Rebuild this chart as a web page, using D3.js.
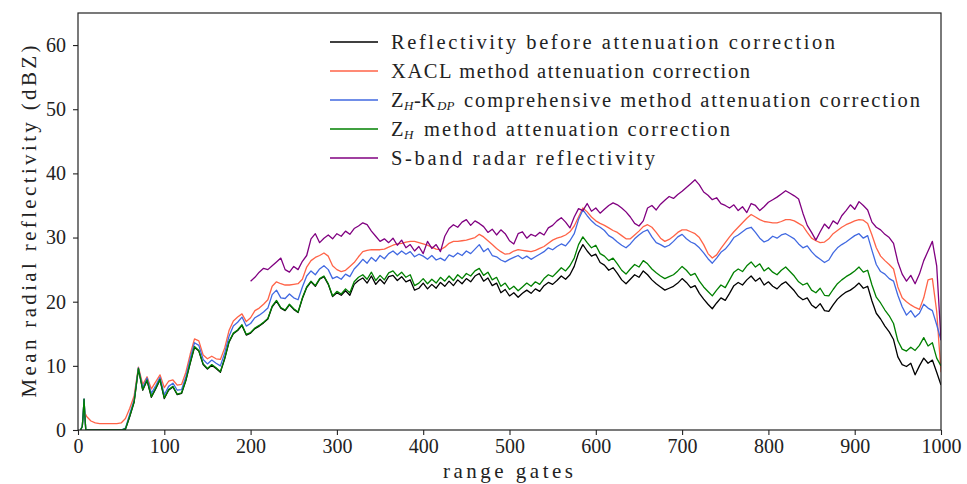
<!DOCTYPE html>
<html>
<head>
<meta charset="utf-8">
<script src="https://cdn.jsdelivr.net/npm/d3@7"></script>
<style>
  body { margin: 0; background: #fff; }
  text { font-family: "Liberation Serif", "DejaVu Serif", serif; fill: #222; }
</style>
</head>
<body>
<div id="chart"></div>
<script>
// range gates: a few points at the very start, then every 5 gates
const headGates = [3, 5, 6, 7, 8, 9];
const gates = headGates.concat(d3.range(10, 1001, 5));
const sGates = d3.range(200, 1001, 5);

const before = [0, 0.6, 2.4, 4.8, 2.2, 0,
  0,0,0,0,0,0,0,0,0,0.1,
  2.1,4.3,9.5,6.2,7.7,5.1,6.4,7.8,4.9,6.2,
  6.7,5.5,5.7,7.7,10.4,12.9,12.3,10.2,9.5,10.1,
  9.6,9.0,11.1,13.7,15.0,15.5,16.3,14.8,15.1,15.8,
  16.2,16.7,17.3,19.2,20.1,19.0,18.6,19.5,18.8,18.3,
  20.5,22.2,23.1,22.4,23.5,23.9,22.7,20.8,21.4,21.0,
  21.7,21.0,22.7,23.3,23.7,22.9,24.0,22.7,23.5,22.8,
  23.9,24.1,23.3,23.9,23.1,23.4,21.8,22.1,22.9,22.0,
  22.7,22.1,23.0,22.4,23.2,22.5,23.4,22.8,23.6,23.1,
  24.0,24.4,23.2,23.7,22.5,22.9,21.4,21.9,20.9,21.4,
  20.7,21.3,21.8,21.3,22.0,21.6,22.5,23.0,22.7,23.3,
  24.0,23.5,24.2,25.5,27.6,28.9,27.9,27.1,27.4,26.1,
  25.7,24.9,25.3,24.4,23.4,22.8,23.5,24.2,23.8,24.8,
  24.2,23.4,22.8,22.3,21.8,22.1,22.4,22.9,23.6,23.0,
  22.2,22.5,21.3,20.4,19.6,18.9,19.8,20.6,20.2,21.3,
  22.5,23.0,22.6,23.4,24.0,23.2,23.7,22.6,23.1,22.4,
  22.0,22.7,23.1,22.4,21.7,20.8,20.3,20.6,19.5,19.0,
  19.7,18.6,18.5,19.5,20.4,21.0,21.5,21.8,22.3,22.9,
  22.1,22.4,20.1,18.2,17.3,16.2,15.3,14.1,11.4,10.2,
  9.9,10.4,8.6,10.0,11.2,10.4,10.9,9.0,7.0];

const xacl = [null, null, null, null, 2.6, 2.4,
  2.1,1.4,1.1,1.0,1.0,1.0,1.0,1.0,1.1,1.8,
  3.4,5.3,9.8,7.1,8.3,6.4,7.5,8.6,6.6,7.6,
  7.8,7.0,7.1,9.0,11.8,14.2,13.9,11.7,11.1,11.5,
  11.1,11.0,12.8,15.5,17.0,17.6,18.1,16.9,17.5,18.6,
  19.0,19.6,20.3,22.4,23.1,22.8,22.6,22.6,22.7,22.8,
  23.5,25.4,26.4,26.9,27.2,27.6,27.1,25.6,25.0,24.7,
  24.9,25.5,26.1,27.0,27.8,28.0,28.1,28.1,28.1,28.2,
  28.5,28.8,29.0,29.1,29.3,29.4,29.4,29.2,29.0,28.8,
  28.5,28.2,28.1,28.5,29.1,29.4,29.4,29.5,29.6,29.8,
  30.0,30.5,30.1,29.5,28.9,28.3,27.8,27.4,27.5,27.9,
  28.1,28.0,27.9,27.8,28.0,28.3,28.6,29.1,29.6,29.9,
  30.1,30.4,30.9,31.8,33.2,34.6,34.0,33.2,32.6,32.2,
  31.9,31.5,31.1,30.8,30.3,29.8,29.8,30.4,31.0,31.7,
  32.0,31.6,30.8,29.9,29.4,29.7,30.2,30.8,31.2,31.2,
  30.9,30.6,30.0,28.9,27.5,26.8,27.3,28.3,29.2,30.1,
  30.9,31.6,32.3,33.0,33.6,33.2,32.8,32.5,32.4,32.3,
  32.3,32.5,32.8,32.8,32.6,32.2,31.8,30.8,29.9,29.5,
  29.2,29.3,29.8,30.6,31.1,31.6,32.0,32.3,32.6,32.8,
  32.7,32.2,30.4,28.4,27.1,26.4,25.8,25.1,22.3,20.6,
  20.0,19.5,19.1,18.8,20.6,23.4,23.6,18.5,9.0];

const zhKdp = [0, 0.6, 2.4, 4.8, 2.2, 0,
  0,0,0,0,0,0,0,0,0,0.3,
  2.5,4.7,9.7,6.6,8.1,5.7,6.9,8.2,5.5,6.8,
  7.3,6.2,6.3,8.3,11.1,13.6,13.2,11.0,10.3,10.9,
  10.4,10.0,12.0,14.6,16.2,16.8,17.6,16.2,16.6,17.5,
  17.9,18.4,19.0,21.1,21.8,20.6,20.5,21.2,20.6,20.3,
  22.3,24.0,24.8,24.2,25.1,25.6,25.0,23.6,23.9,23.5,
  24.3,23.9,25.1,25.8,26.6,26.0,26.9,26.3,27.2,26.7,
  27.5,27.9,27.3,27.9,27.4,27.8,27.0,27.4,27.1,26.6,
  27.2,26.5,26.8,26.4,27.3,27.0,27.6,27.2,27.9,27.5,
  28.2,28.9,27.8,28.3,27.2,27.0,26.5,26.2,26.6,26.9,
  27.2,26.7,27.1,26.6,27.0,27.4,27.8,28.4,28.1,28.6,
  29.0,28.7,29.5,30.6,32.8,34.3,33.4,32.6,32.0,31.6,
  31.1,30.3,29.9,29.3,28.8,28.4,29.0,29.8,30.4,30.9,
  31.2,30.1,29.2,28.9,28.5,28.8,29.4,30.1,30.5,29.8,
  29.3,29.0,28.4,27.6,26.7,26.0,26.8,27.7,28.2,29.0,
  30.0,30.4,30.9,31.4,31.6,30.8,29.9,29.3,29.6,30.2,
  29.9,30.4,30.6,30.2,29.8,29.0,28.4,28.7,27.8,27.1,
  26.6,26.1,26.5,27.6,28.4,28.9,29.3,29.8,30.3,30.6,
  29.9,30.3,28.0,25.8,24.7,24.3,23.6,23.2,21.0,19.2,
  17.9,18.6,17.6,18.2,19.6,19.0,18.6,16.4,14.0];

const zh = [0, 0.6, 2.4, 4.8, 2.2, 0,
  0,0,0,0,0,0,0,0,0,0.2,
  2.2,4.4,9.6,6.3,7.8,5.2,6.5,7.9,5.0,6.3,
  6.8,5.6,5.8,7.8,10.5,13.0,12.4,10.3,9.6,10.2,
  9.7,9.1,11.2,13.8,15.1,15.6,16.4,14.9,15.2,15.9,
  16.3,16.8,17.4,19.3,20.2,19.1,18.7,19.6,18.9,18.4,
  20.6,22.3,23.2,22.5,23.6,24.0,22.8,20.9,21.6,21.2,
  22.0,21.4,23.1,23.8,24.2,23.5,24.6,23.3,24.1,23.4,
  24.5,24.8,24.0,24.6,23.8,24.2,22.5,22.9,23.6,22.8,
  23.5,22.9,23.8,23.2,24.0,23.3,24.2,23.6,24.4,24.0,
  24.8,25.2,24.1,24.6,23.4,23.8,22.4,22.9,21.9,22.4,
  21.7,22.3,22.9,22.4,23.1,22.7,23.6,24.2,23.9,24.6,
  25.3,24.8,25.6,26.8,28.9,30.1,29.2,28.4,28.8,27.5,
  27.1,26.4,26.8,25.9,24.9,24.3,25.1,25.8,25.4,26.4,
  25.9,25.1,24.5,24.0,23.6,23.9,24.2,24.8,25.5,24.9,
  24.1,24.4,23.2,22.3,21.6,20.9,21.8,22.6,22.2,23.4,
  24.6,25.1,24.7,25.6,26.2,25.4,25.9,24.8,25.3,24.6,
  24.2,24.9,25.4,24.7,24.0,23.1,22.6,22.9,21.8,21.4,
  22.1,21.0,20.9,21.9,22.8,23.4,23.9,24.3,24.8,25.4,
  24.6,24.9,22.6,20.7,19.8,18.7,17.8,16.6,13.9,12.6,
  12.3,12.9,12.4,13.2,14.4,13.1,13.6,11.2,10.0];

const sBand = [
  23.2,23.8,24.6,25.2,25.0,25.6,26.2,26.8,25.0,24.6,
  25.5,25.0,26.3,27.2,29.8,30.6,29.2,29.9,30.4,29.8,
  30.6,30.2,31.0,30.5,31.4,31.8,32.3,32.0,31.0,30.2,
  29.4,29.8,29.2,29.9,28.8,29.6,28.4,28.9,27.9,28.6,
  27.5,29.4,28.3,28.9,27.8,30.2,31.4,32.0,31.6,32.4,
  32.8,31.9,32.6,32.2,31.7,30.8,31.3,30.4,31.2,30.6,
  29.5,29.0,30.6,30.9,29.9,30.5,30.2,30.8,30.4,31.5,
  31.9,32.6,33.1,32.4,31.5,33.2,34.5,34.2,35.3,34.1,
  34.6,33.8,34.4,35.0,35.4,35.1,34.6,34.0,33.2,32.2,
  31.8,32.6,34.6,35.0,34.3,35.2,35.8,36.4,36.1,36.7,
  37.2,37.8,38.4,39.0,38.2,37.1,36.6,35.9,36.2,35.3,
  35.0,34.6,35.1,34.2,34.8,33.9,35.3,35.0,34.2,34.8,
  35.5,35.9,36.3,36.8,37.3,36.9,36.5,36.0,33.8,31.9,
  30.8,29.6,30.9,32.1,31.4,32.6,32.1,33.4,34.2,35.1,
  34.4,35.6,35.0,34.3,32.4,31.6,31.2,30.5,30.0,29.1,
  26.2,24.3,23.2,24.1,22.8,24.3,26.4,27.9,29.4,25.6,
  14.0];

const xTicks = d3.range(0, 1001, 100);
const yTicks = d3.range(0, 61, 10);

const series = [
  {x: gates, y: before, color: "#000000"},
  {x: gates, y: xacl, color: "tomato"},
  {x: gates, y: zhKdp, color: "royalblue"},
  {x: gates, y: zh, color: "green"},
  {x: sGates, y: sBand, color: "purple"}
];

const width = 967, height = 484;
const padL = 78, padR = 941, padT = 13, padB = 430;

const svg = d3.select("#chart").append("svg")
  .attr("width", width).attr("height", height);
svg.append("rect").attr("width", width).attr("height", height).attr("fill", "#fff");

const x = d3.scaleLinear().domain([0, 1000]).range([padL, padR]);
const y = d3.scaleLinear().domain([0, 65]).range([padB, padT]);

svg.append("clipPath").attr("id", "plot")
  .append("rect").attr("x", padL).attr("y", padT)
  .attr("width", padR - padL).attr("height", padB - padT);

const line = d3.line()
  .defined(d => d[1] != null)
  .x(d => x(d[0])).y(d => y(d[1]));

svg.append("g").attr("clip-path", "url(#plot)")
  .selectAll("path")
  .data(series)
  .enter()
  .append("path")
  .attr("d", s => line(s.x.map((g, i) => [g, s.y[i] === undefined ? null : s.y[i]])))
  .attr("fill", "none")
  .attr("stroke", s => s.color)
  .attr("stroke-width", 1.3)
  .attr("stroke-linejoin", "round");

// frame
svg.append("rect").attr("x", padL).attr("y", padT)
  .attr("width", padR - padL).attr("height", padB - padT)
  .attr("fill", "none").attr("stroke", "#222").attr("stroke-width", 1.2);

const xAxis = d3.axisBottom(x).tickValues(xTicks).tickSize(5).tickPadding(4).tickFormat(d3.format("d"));
const yAxis = d3.axisLeft(y).tickValues(yTicks).tickSize(5).tickPadding(7).tickFormat(d3.format("d"));

const gx = svg.append("g").attr("transform", "translate(0," + padB + ")").call(xAxis);
const gy = svg.append("g").attr("transform", "translate(" + padL + ",0)").call(yAxis);
[gx, gy].forEach(g => {
  g.select(".domain").remove();
  g.selectAll("line").attr("stroke", "#222").attr("stroke-width", 1.1);
  g.selectAll("text").attr("font-family", "Liberation Serif").attr("font-size", 20).attr("fill", "#222");
});

svg.append("text")
  .attr("x", 508).attr("y", 478)
  .attr("text-anchor", "middle")
  .attr("font-size", 21)
  .attr("textLength", 130).attr("lengthAdjust", "spacing")
  .text("range gates");

svg.append("text")
  .attr("transform", "translate(36," + ((padT + padB) / 2) + ") rotate(-90)")
  .attr("text-anchor", "middle")
  .attr("font-size", 21)
  .attr("textLength", 352).attr("lengthAdjust", "spacing")
  .text("Mean radial reflectivity (dBZ)");

// legend: pieces are [text, kind, x, textLength] where kind "s" = italic subscript
const legendRows = [
  [["Reflectivity before attenuation correction", "n", 391, 444]],
  [["XACL method attenuation correction", "n", 391, 359]],
  [["Z", "n", 391, 0], ["H", "s", 404, 0], ["-K", "n", 414, 0], ["DP", "s", 437, 0],
   ["comprehensive method attenuation correction", "n", 464, 456]],
  [["Z", "n", 391, 0], ["H", "s", 404, 0], ["method attenuation correction", "n", 424, 306]],
  [["S-band radar reflectivity", "n", 391, 264]]
];
const legendY = [42, 71, 100, 129, 158];

const legend = svg.append("g");
legendRows.forEach((row, i) => {
  const cy = legendY[i];
  legend.append("line")
    .attr("x1", 330).attr("x2", 378).attr("y1", cy).attr("y2", cy)
    .attr("stroke", series[i].color).attr("stroke-width", 1.3);
  row.forEach(p => {
    const t = legend.append("text")
      .attr("x", p[2])
      .attr("y", p[1] === "s" ? cy + 10 : cy + 7)
      .text(p[0]);
    if (p[1] === "s") {
      t.attr("font-family", "DejaVu Sans").attr("font-style", "italic").attr("font-size", 13);
    } else {
      t.attr("font-size", 20.5);
    }
    if (p[3] > 0) t.attr("textLength", p[3]).attr("lengthAdjust", "spacing");
  });
});
</script>
</body>
</html>
